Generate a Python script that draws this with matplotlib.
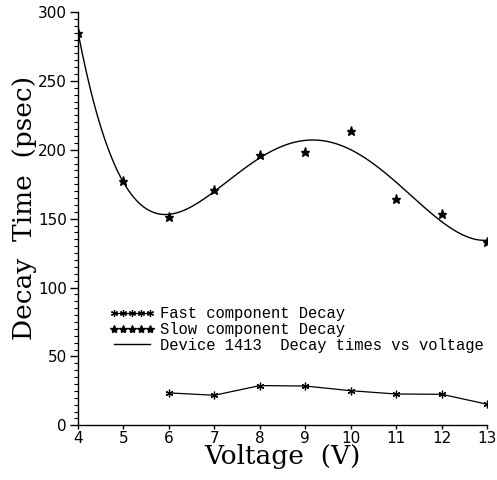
import numpy as np
import matplotlib
matplotlib.use('Agg')
import matplotlib.pyplot as plt
from matplotlib.lines import Line2D
from matplotlib.ticker import MultipleLocator

# decay times (psec) vs bias voltage, device 1413
voltage_fast = [6, 7, 8, 9, 10, 11, 12, 13]
fast_decay = [23.5, 21.8, 28.8, 28.5, 25.1, 22.7, 22.5, 15.3]

voltage_slow = [4, 5, 6, 7, 8, 9, 10, 11, 12, 13]
slow_decay = [285.0, 177.4, 151.3, 170.9, 196.0, 198.7, 213.7, 164.3, 153.4, 133.3]

# smooth polynomial fit through the slow component
coef = np.polyfit(voltage_slow, slow_decay, 5)
vfit = np.linspace(4, 13, 300)
slow_fit = np.polyval(coef, vfit)

fig = plt.figure(figsize=(4.97, 4.80), dpi=100)
ax = fig.add_axes([0.157, 0.114, 0.823, 0.861])

ax.plot(voltage_fast, fast_decay, color='black', lw=0.9,
        marker=(6, 2, 0), ms=5.5, mew=0.9)
ax.plot(voltage_slow, slow_decay, ls='none', color='black',
        marker='*', ms=6.5)
ax.plot(vfit, slow_fit, color='black', lw=1.0)

ax.set_xlim(4, 13)
ax.set_ylim(0, 300)
ax.xaxis.set_major_locator(MultipleLocator(1))
ax.yaxis.set_major_locator(MultipleLocator(50))
ax.yaxis.set_minor_locator(MultipleLocator(5))
for s in ['top', 'right']:
    ax.spines[s].set_visible(False)
for s in ['left', 'bottom']:
    ax.spines[s].set_linewidth(1.0)
ax.tick_params(axis='y', which='major', direction='out', length=6,
               width=1.0, labelsize=11, pad=2)
ax.tick_params(axis='x', which='major', direction='out', length=3,
               width=1.0, labelsize=11, pad=1)
ax.tick_params(axis='y', which='minor', direction='out', length=3, width=0.8)

ax.set_xlabel('Voltage  (V)', family='DejaVu Serif', fontsize=19, labelpad=-1)
ax.set_ylabel('Decay  Time  (psec)', family='DejaVu Serif', fontsize=19,
              labelpad=1, y=0.525)

handles = [
    Line2D([], [], color='black', lw=0.9, marker=(6, 2, 0), ms=5, mew=0.9),
    Line2D([], [], ls='none', color='black', marker='*', ms=6),
    Line2D([], [], color='black', lw=1.0),
]
labels = ['Fast component Decay', 'Slow component Decay',
          'Device 1413  Decay times vs voltage']
ax.legend(handles, labels, loc='upper left', bbox_to_anchor=(0.062, 0.303),
          frameon=False, numpoints=5, handlelength=2.9, handletextpad=0.35,
          labelspacing=0.05, borderaxespad=0,
          prop={'family': 'Liberation Mono', 'size': 11.2})

fig.savefig('out.png', dpi=100)
